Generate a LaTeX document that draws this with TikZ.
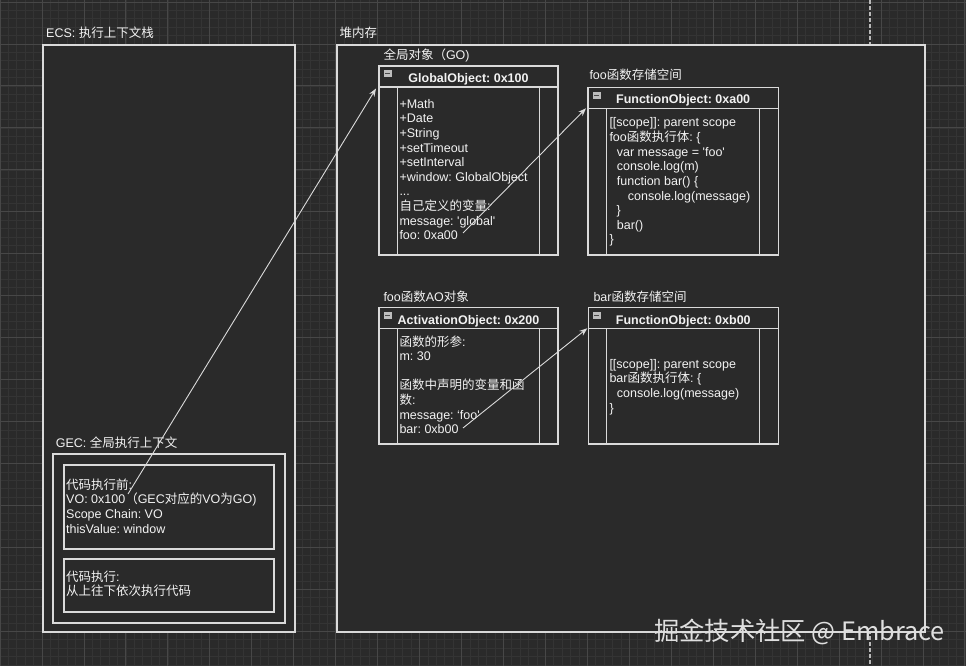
\documentclass[tikz,border=0pt]{standalone}
\usepackage{fontspec}
\setmainfont{Liberation Sans}
\newfontfamily\cjk{Noto Sans CJK SC}
\usetikzlibrary{arrows.meta}
\frenchspacing
\definecolor{bg}{HTML}{2A2A2A}
\definecolor{gmin}{HTML}{343434}
\definecolor{gmaj}{HTML}{474747}
\definecolor{ln}{HTML}{DADADA}
\definecolor{tx}{HTML}{F2F2F2}
\definecolor{iconc}{HTML}{BDBDBD}
\definecolor{icond}{HTML}{4A4A4A}
\tikzset{
  frame/.style={draw=ln, fill=bg, line width=1.1pt, inner sep=0pt, outer sep=0pt},
  frameline/.style={draw=ln, line width=1.1pt},
  iconbox/.style={fill=iconc, draw=none, minimum width=8pt, minimum height=7pt, inner sep=0pt, outer sep=0pt},
  icondash/.style={draw=icond, line width=1pt},
  titletext/.style={text=tx, font=\fontsize{12.5}{14.6}\selectfont\bfseries, inner sep=0pt},
  txt/.style={text=tx, font=\fontsize{12.5}{14.6}\selectfont, inner sep=0pt, anchor=base west},
  minorgrid/.style={draw=gmin, line width=0.6pt},
  majorgrid/.style={draw=gmaj, line width=0.8pt},
  dashline/.style={draw=ln!85!black, line width=1.3pt, dash pattern=on 4pt off 2pt},
  link/.style={draw=ln, line width=0.9pt, -{Stealth[length=8pt,width=6pt]}},
  wmark/.style={text=tx!92!black, font=\cjk\fontsize{25.3}{27}\selectfont, inner sep=0pt}
}
\newcommand\plainbox[5]{%
  \node[frame, anchor=north west, minimum width={#4-#2}, minimum height={#5-#3}] (#1) at (#2,#3) {};}
\newcommand\umlbox[6]{%
  \node[frame, anchor=north west, minimum width={#4-#2}, minimum height={#5-#3}] (#1) at (#2,#3) {};
  \draw[frameline] ([yshift=-21pt]#1.north west) -- ([yshift=-21pt]#1.north east);
  \draw[frameline] ([xshift=18.5pt,yshift=-21pt]#1.north west) -- ([xshift=18.5pt]#1.south west);
  \draw[frameline] ([xshift=-18.5pt,yshift=-21pt]#1.north east) -- ([xshift=-18.5pt]#1.south east);
  \node[iconbox, anchor=north west] (#1-icon) at ([xshift=4.5pt,yshift=-4.5pt]#1.north west) {};
  \draw[icondash] ([xshift=1.5pt]#1-icon.west) -- ([xshift=-1.5pt]#1-icon.east);
  \node[titletext, anchor=base] (#1-title) at ([yshift=-16.3pt]#1.north) {#6};}
\newcommand\tline[4]{\node[txt] (#1) at (#2,#3) {#4};}
\begin{document}
\begin{tikzpicture}[x=1pt,y=-1pt]
\useasboundingbox (0,0) rectangle (966,666);
\fill[bg] (0,0) rectangle (966,666);
% grid
\foreach \i in {0,...,116} {\draw[minorgrid] (\i*8.39,0) -- (\i*8.39,666);}
\foreach \j in {0,...,80} {\draw[minorgrid] (0,2+\j*8.39) -- (966,2+\j*8.39);}
\foreach \i in {0,...,23} {\draw[majorgrid] (\i*41.95,0) -- (\i*41.95,666);}
\foreach \j in {0,...,16} {\draw[majorgrid] (0,2+\j*41.95) -- (966,2+\j*41.95);}
\draw[dashline] (870,0) -- (870,666);

% containers
\plainbox{ecs}{43}{45}{295}{632}
\plainbox{heap}{337}{45}{925}{632}
\tline{ecslabel}{46}{37.6}{ECS: {\cjk 执行上下文栈}}
\tline{heaplabel}{339.3}{37.6}{{\cjk 堆内存}}

% GEC
\plainbox{gec}{53}{454}{285}{623}
\plainbox{gecA}{64}{465}{274}{549}
\plainbox{gecB}{64}{559}{274}{612}
\tline{geclabel}{55.7}{447.6}{GEC: {\cjk 全局执行上下文}}
\tline{g1}{66}{489.3}{{\cjk 代码执行前}:}
\tline{g2}{66}{503.9}{VO: 0x100{\cjk （}GEC{\cjk 对应的}VO{\cjk 为}GO)}
\tline{g3}{66}{518.5}{Scope Chain: VO}
\tline{g4}{66}{533.1}{thisValue: window}
\tline{g5}{66}{581}{{\cjk 代码执行}:}
\tline{g6}{66}{595.6}{{\cjk 从上往下依次执行代码}}

% Global object
\tline{golabel}{383.3}{59.3}{{\cjk 全局对象（}GO)}
\umlbox{go}{379}{66}{558}{255}{GlobalObject: 0x100}
\tline{go1}{399.3}{108.3}{+Math}
\tline{go2}{399.3}{122.9}{+Date}
\tline{go3}{399.3}{137.5}{+String}
\tline{go4}{399.3}{152.1}{+setTimeout}
\tline{go5}{399.3}{166.7}{+setInterval}
\tline{go6}{399.3}{181.3}{+window: GlobalObject}
\tline{go7}{399.3}{195.9}{...}
\tline{go8}{399.3}{210.5}{{\cjk 自己定义的变量}:}
\tline{go9}{399.3}{225.1}{message: \textquotesingle global\textquotesingle}
\tline{go10}{399.3}{239.7}{foo: 0xa00}

% foo function object
\tline{falabel}{589.3}{79.3}{foo{\cjk 函数存储空间}}
\umlbox{fa}{588}{87.3}{778.3}{255}{FunctionObject: 0xa00}
\tline{fa1}{609.3}{127}{[[scope]]: parent scope}
\tline{fa2}{609.3}{141.6}{foo{\cjk 函数执行体}: \{}
\tline{fa3}{616.7}{156.2}{var message = \textquotesingle foo\textquotesingle}
\tline{fa4}{616.7}{170.8}{console.log(m)}
\tline{fa5}{616.7}{185.4}{function bar() \{}
\tline{fa6}{627.7}{200}{console.log(message)}
\tline{fa7}{616.3}{214.6}{\}}
\tline{fa8}{616.7}{229.2}{bar()}
\tline{fa9}{609.3}{243.8}{\}}

% activation object
\tline{aolabel}{383.3}{301}{foo{\cjk 函数}AO{\cjk 对象}}
\umlbox{ao}{379}{307.7}{558}{444}{ActivationObject: 0x200}
\tline{ao1}{399.3}{346}{{\cjk 函数的形参}:}
\tline{ao2}{399.3}{360.6}{m: 30}
\tline{ao3}{399.3}{389.8}{{\cjk 函数中声明的变量和函}}
\tline{ao4}{399.3}{404.4}{{\cjk 数}:}
\tline{ao5}{399.3}{419}{message: ‘foo\textquotesingle}
\tline{ao6}{399.3}{433.6}{bar: 0xb00}

% bar function object
\tline{fblabel}{593.3}{301}{bar{\cjk 函数存储空间}}
\umlbox{fb}{588.3}{307.7}{778.3}{444}{FunctionObject: 0xb00}
\tline{fb1}{609.3}{368.3}{[[scope]]: parent scope}
\tline{fb2}{609.3}{382.9}{bar{\cjk 函数执行体}: \{}
\tline{fb3}{616.7}{397.5}{console.log(message)}
\tline{fb4}{609.3}{412.1}{\}}

% connectors
\coordinate (s1) at (128,494);
\coordinate (s2) at (463,233);
\coordinate (s3) at (463,428);
\draw[link] (s1) -- ([xshift=-3pt,yshift=-22.5pt]go.north west);
\draw[link] (s2) -- ([xshift=-2pt,yshift=-21pt]fa.north west);
\draw[link] (s3) -- ([xshift=-1pt,yshift=-20.6pt]fb.north west);

% watermark
\node[wmark, anchor=west] (wm) at (654,632) {掘金技术社区 @ Embrace};
\end{tikzpicture}
\end{document}
